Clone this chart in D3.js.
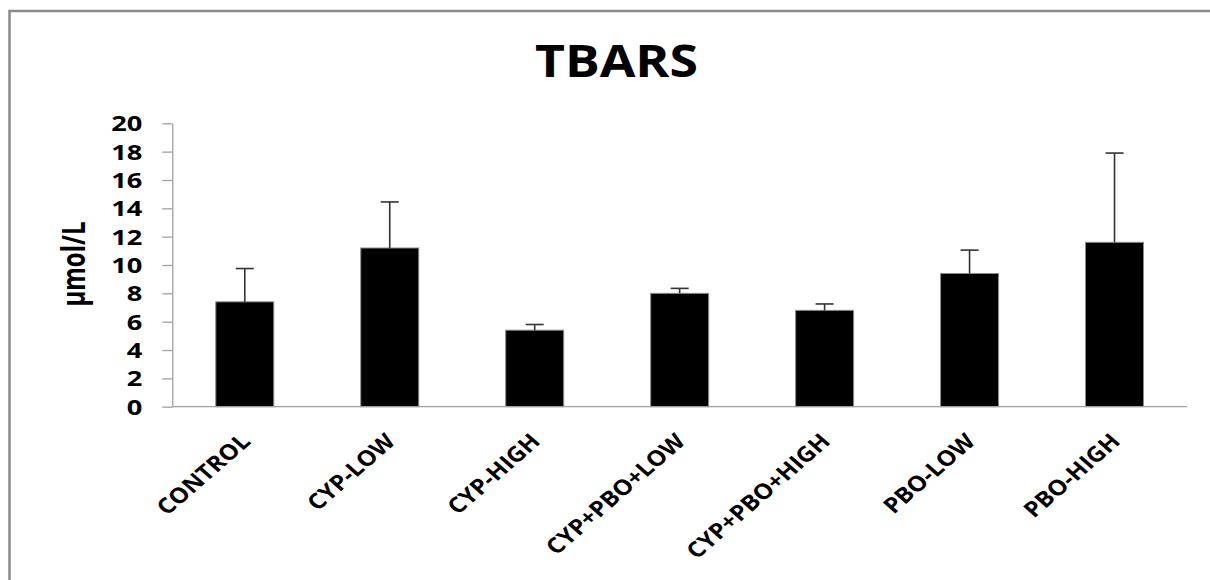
<!DOCTYPE html>
<html>
<head>
<meta charset="utf-8">
<script src="https://cdn.jsdelivr.net/npm/d3@7"></script>
<style>
  html, body { margin: 0; padding: 0; background: #fff; }
  svg { display: block; }
  text { font-family: "Open Sans", "DejaVu Sans", sans-serif; font-weight: bold; fill: #000; }
</style>
</head>
<body>
<svg id="chart" width="1210" height="580"></svg>
<script>
// TBARS concentration by treatment group (mean and upper error)
const categories = ["CONTROL", "CYP-LOW", "CYP-HIGH", "CYP+PBO+LOW", "CYP+PBO+HIGH", "PBO-LOW", "PBO-HIGH"];
const means = [7.4, 11.2, 5.4, 8.0, 6.8, 9.4, 11.6];
const errors = [2.35, 3.25, 0.4, 0.35, 0.45, 1.65, 6.3];
const yTicks = [0, 2, 4, 6, 8, 10, 12, 14, 16, 18, 20];
const chartTitle = "TBARS";
const yTitle = "µmol/L";

// text in this layout is drawn slightly wider than tall
const stretch = 1.33;
const labelStretch = 1.15;

const svg = d3.select("#chart");

// outer frame (left and top edges)
svg.append("path")
  .attr("d", "M9.5,580 V11 H1212")
  .attr("fill", "none")
  .attr("stroke", "#8a8a8a")
  .attr("stroke-width", 2.5);

const plotLeft = 172.3, plotRight = 1187, plotTop = 123.3, plotBottom = 406.7;

const x = d3.scaleBand()
  .domain(categories)
  .range([plotLeft, plotRight])
  .paddingInner(0.6)
  .paddingOuter(0.3);

const y = d3.scaleLinear()
  .domain([0, 20])
  .range([plotBottom, plotTop]);

// title
svg.append("text")
  .attr("x", 616.5)
  .attr("y", 77)
  .attr("text-anchor", "middle")
  .attr("font-size", 44)
  .attr("textLength", 163)
  .attr("lengthAdjust", "spacingAndGlyphs")
  .text(chartTitle);

// y axis
const yAxis = svg.append("g")
  .attr("transform", `translate(${plotLeft},0)`)
  .call(d3.axisLeft(y).tickValues(yTicks).tickSize(10).tickSizeOuter(0).tickFormat(d3.format("d")));
yAxis.select(".domain").attr("stroke", "#a0a0a0").attr("stroke-width", 1.3);
yAxis.selectAll(".tick line").attr("stroke", "#a0a0a0").attr("stroke-width", 1.3);
yAxis.selectAll(".tick text")
  .attr("x", null)
  .attr("dy", "0.36em")
  .attr("text-anchor", "end")
  .attr("transform", `translate(-30,0) scale(${stretch},1)`)
  .style("font-family", "'Open Sans', sans-serif")
  .style("font-weight", "bold")
  .style("font-size", "20.5px")
  .attr("fill", "#000");

// y axis title
svg.append("text")
  .attr("transform", `translate(85,264) scale(${stretch},1) rotate(-90)`)
  .attr("text-anchor", "middle")
  .attr("font-size", 24)
  .text(yTitle);

// bars
svg.append("g").selectAll("rect")
  .data(categories)
  .join("rect")
  .attr("x", d => x(d))
  .attr("y", (d, i) => y(means[i]))
  .attr("width", x.bandwidth())
  .attr("height", (d, i) => y(0) - y(means[i]))
  .attr("fill", "#000")
  .attr("stroke", "#8a8a8a")
  .attr("stroke-width", 1);

// upper error bars
const capHalf = 9;
const err = svg.append("g").attr("stroke", "#333").attr("stroke-width", 1.6);
categories.forEach((c, i) => {
  const cx = x(c) + x.bandwidth() / 2;
  err.append("line")
    .attr("x1", cx).attr("x2", cx)
    .attr("y1", y(means[i])).attr("y2", y(means[i] + errors[i]));
  err.append("line")
    .attr("x1", cx - capHalf).attr("x2", cx + capHalf)
    .attr("y1", y(means[i] + errors[i])).attr("y2", y(means[i] + errors[i]));
});

// x baseline
svg.append("line")
  .attr("x1", plotLeft).attr("x2", plotRight)
  .attr("y1", y(0)).attr("y2", y(0))
  .attr("stroke", "#a0a0a0")
  .attr("stroke-width", 1.3);

// category labels, slanted
svg.append("g").selectAll("text")
  .data(categories)
  .join("text")
  .attr("text-anchor", "end")
  .attr("font-size", 21.5)
  .attr("transform", d => `translate(${x(d) + x.bandwidth() / 2 + 7},${plotBottom + 36}) scale(${labelStretch},1) rotate(-45)`)
  .text(d => d);
</script>
</body>
</html>
